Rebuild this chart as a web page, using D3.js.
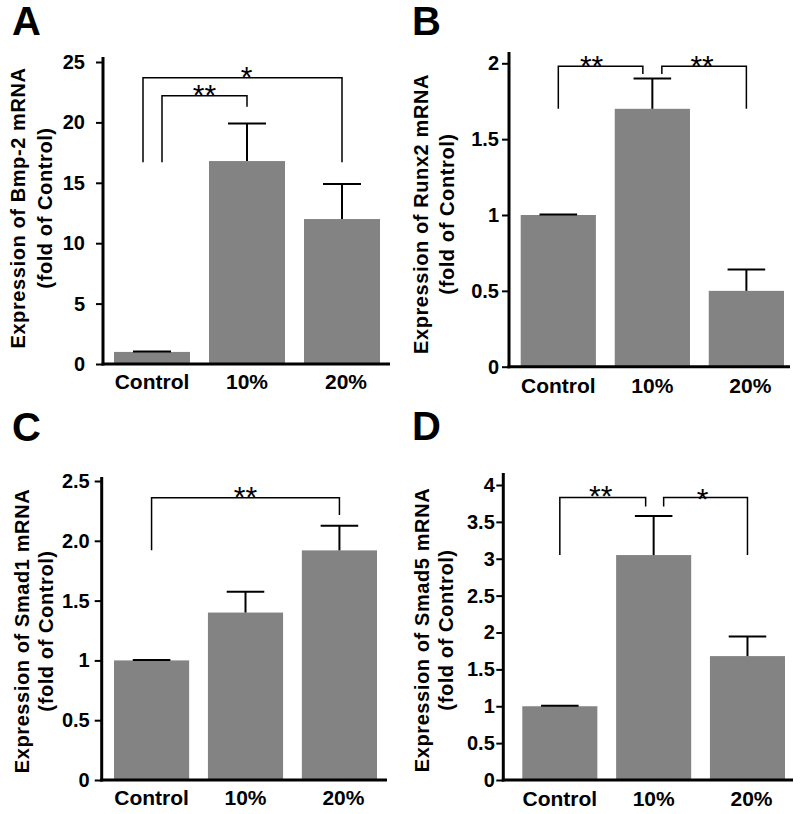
<!DOCTYPE html>
<html>
<head>
<meta charset="utf-8">
<script src="https://cdn.jsdelivr.net/npm/d3@7"></script>
<style>
  html, body { margin: 0; padding: 0; background: #fff; }
  svg { display: block; }
  text { font-family: "Liberation Sans", Arial, Helvetica, sans-serif; font-weight: bold; fill: #000; }
</style>
</head>
<body>
<svg id="chart" width="800" height="814"></svg>
<script>
// ---------------- DATA ----------------
const categories = ["Control", "10%", "20%"];

const bmp2Mean  = [1.0, 16.8, 12.0];
const bmp2Err   = [0.03, 3.1, 2.9];
const bmp2Ticks = ["0", "5", "10", "15", "20", "25"];

const runx2Mean  = [1.0, 1.70, 0.50];
const runx2Err   = [0.004, 0.20, 0.14];
const runx2Ticks = ["0", "0.5", "1", "1.5", "2"];

const smad1Mean  = [1.0, 1.40, 1.92];
const smad1Err   = [0.004, 0.175, 0.205];
const smad1Ticks = ["0", "0.5", "1", "1.5", "2.0", "2.5"];

const smad5Mean  = [1.0, 3.05, 1.68];
const smad5Err   = [0.008, 0.53, 0.265];
const smad5Ticks = ["0", "0.5", "1", "1.5", "2", "2.5", "3", "3.5", "4"];

// significance brackets: from/to category index, top value, leg end values, label
const bmp2Sig  = [
  { from: 0, to: 2, top: 23.7, leftEnd: 16.7, rightEnd: 16.7, label: "*" },
  { from: 0, to: 1, top: 22.2, leftEnd: 16.7, rightEnd: 21.3, label: "**" }
];
const runx2Sig = [
  { from: 0, to: 1, top: 1.98, leftEnd: 1.70, rightEnd: 1.93, label: "**" },
  { from: 1, to: 2, top: 1.98, leftEnd: 1.93, rightEnd: 1.70, label: "**" }
];
const smad1Sig = [
  { from: 0, to: 2, top: 2.36, leftEnd: 1.92, rightEnd: 2.215, label: "**" }
];
const smad5Sig = [
  { from: 0, to: 1, top: 3.83, leftEnd: 3.05, rightEnd: 3.71, label: "**" },
  { from: 1, to: 2, top: 3.83, leftEnd: 3.71, rightEnd: 3.05, label: "*" }
];

const panelLetters = ["A", "B", "C", "D"];
const yTitles = [
  ["Expression of Bmp-2 mRNA", "(fold of Control)"],
  ["Expression of Runx2 mRNA", "(fold of Control)"],
  ["Expression of Smad1 mRNA", "(fold of Control)"],
  ["Expression of Smad5 mRNA", "(fold of Control)"]
];

// ---------------- LAYOUT ----------------
const layouts = [
  { letterX: 12, letterY: 35, axisX: 103, y0: 364, yTopPx: 62, yMax: 25, axisTopPx: 57,
    barL: 114, barR: 380, xEnd: 390, catY: 389, t1: 25, t2: 52, tMid: 208, tickPad: 11,
    legOff: [[-9, 0], [10, 0]], starShift: [4, 0], starDy: [0, 0] },
  { letterX: 412, letterY: 35, axisX: 509, y0: 366.7, yTopPx: 63.3, yMax: 2, axisTopPx: 52,
    barL: 520.7, barR: 784, xEnd: 790, catY: 393, t1: 428, t2: 454, tMid: 214, tickPad: 3,
    legOff: [[0, -9.5], [9.5, 0]], starShift: [-9, -2], starDy: [0, 0] },
  { letterX: 12, letterY: 441, axisX: 101.7, y0: 780, yTopPx: 481, yMax: 2.5, axisTopPx: 477,
    barL: 114, barR: 377, xEnd: 387, catY: 805, t1: 29, t2: 53, tMid: 631, tickPad: 5,
    legOff: [[0, 0]], starShift: [0], starDy: [0] },
  { letterX: 412, letterY: 440, axisX: 503.3, y0: 780, yTopPx: 485, yMax: 4, axisTopPx: 473,
    barL: 522.3, barR: 785, xEnd: 793, catY: 806, t1: 429, t2: 453, tMid: 630, tickPad: 1.5,
    legOff: [[0, -8], [10, 0]], starShift: [-2, -3], starDy: [-1, 2] }
];

const panelsData = [
  { mean: bmp2Mean, err: bmp2Err, ticks: bmp2Ticks, sig: bmp2Sig },
  { mean: runx2Mean, err: runx2Err, ticks: runx2Ticks, sig: runx2Sig },
  { mean: smad1Mean, err: smad1Err, ticks: smad1Ticks, sig: smad1Sig },
  { mean: smad5Mean, err: smad5Err, ticks: smad5Ticks, sig: smad5Sig }
];

const svg = d3.select("#chart");
const barColor = "#838383";

panelsData.forEach((pd, i) => {
  const L = layouts[i];
  const g = svg.append("g");

  const x = d3.scaleBand().domain(categories).range([L.barL, L.barR])
    .paddingInner(0.2).paddingOuter(0);
  const y = d3.scaleLinear().domain([0, L.yMax]).range([L.y0, L.yTopPx]);

  // panel letter
  g.append("text").attr("x", L.letterX).attr("y", L.letterY)
    .style("font-size", "40px").text(panelLetters[i]);

  // bars
  const rows = categories.map((c, k) => ({ c, m: pd.mean[k], e: pd.err[k] }));
  g.selectAll("rect.bar").data(rows).join("rect")
    .attr("class", "bar")
    .attr("x", d => x(d.c)).attr("width", x.bandwidth())
    .attr("y", d => y(d.m)).attr("height", d => y(0) - y(d.m))
    .attr("fill", barColor);

  // error bars
  const capHalf = x.bandwidth() / 4;
  rows.forEach(d => {
    const cx = x(d.c) + x.bandwidth() / 2;
    g.append("line").attr("x1", cx).attr("x2", cx)
      .attr("y1", y(d.m)).attr("y2", y(d.m + d.e))
      .attr("stroke", "#000").attr("stroke-width", 2);
    g.append("line").attr("x1", cx - capHalf).attr("x2", cx + capHalf)
      .attr("y1", y(d.m + d.e)).attr("y2", y(d.m + d.e))
      .attr("stroke", "#000").attr("stroke-width", 2);
  });

  // y axis
  const tickVals = pd.ticks.map(Number);
  const yAxis = d3.axisLeft(y).tickValues(tickVals)
    .tickFormat((d, k) => pd.ticks[k]).tickSize(7).tickPadding(L.tickPad).tickSizeOuter(0);
  const ya = g.append("g").attr("transform", `translate(${L.axisX},0)`).call(yAxis);
  ya.select(".domain").remove();
  ya.selectAll(".tick line").attr("stroke", "#000").attr("stroke-width", 2);
  ya.selectAll(".tick text").style("font-size", "20px")
    .style("font-family", "'Liberation Sans', Arial, sans-serif").style("font-weight", "bold");
  g.append("line").attr("x1", L.axisX).attr("x2", L.axisX)
    .attr("y1", L.axisTopPx).attr("y2", y(0) + 1.5)
    .attr("stroke", "#000").attr("stroke-width", 3);

  // x axis
  g.append("line").attr("x1", L.axisX - 1.5).attr("x2", L.xEnd)
    .attr("y1", y(0)).attr("y2", y(0))
    .attr("stroke", "#000").attr("stroke-width", 3);
  const xAxis = d3.axisBottom(x).tickSize(0).tickPadding(0);
  const xa = g.append("g").attr("transform", `translate(0,${L.catY})`).call(xAxis);
  xa.select(".domain").remove();
  xa.selectAll(".tick text").attr("y", 0).attr("dy", 0)
    .attr("dx", (d, k) => k === 2 ? 4 : 0)
    .style("font-size", "21px")
    .style("font-family", "'Liberation Sans', Arial, sans-serif").style("font-weight", "bold");

  // y title (two lines, rotated)
  [L.t1, L.t2].forEach((tx, k) => {
    g.append("text")
      .attr("transform", `translate(${tx},${L.tMid}) rotate(-90)`)
      .attr("text-anchor", "middle")
      .style("font-size", "20px").style("letter-spacing", "0.6px")
      .text(yTitles[i][k]);
  });

  // significance brackets
  pd.sig.forEach((s, k) => {
    const off = L.legOff[k];
    const xl = x(categories[s.from]) + x.bandwidth() / 2 + off[0];
    const xr = x(categories[s.to]) + x.bandwidth() / 2 + off[1];
    const path = d3.path();
    path.moveTo(xl, y(s.leftEnd));
    path.lineTo(xl, y(s.top));
    path.lineTo(xr, y(s.top));
    path.lineTo(xr, y(s.rightEnd));
    g.append("path").attr("d", path.toString())
      .attr("fill", "none").attr("stroke", "#000").attr("stroke-width", 1.5);
    g.append("text")
      .attr("x", (xl + xr) / 2 + L.starShift[k])
      .attr("y", y(s.top) + 9.5 + L.starDy[k])
      .attr("text-anchor", "middle")
      .style("font-size", "30px").style("font-weight", "normal")
      .text(s.label);
  });
});
</script>
</body>
</html>
